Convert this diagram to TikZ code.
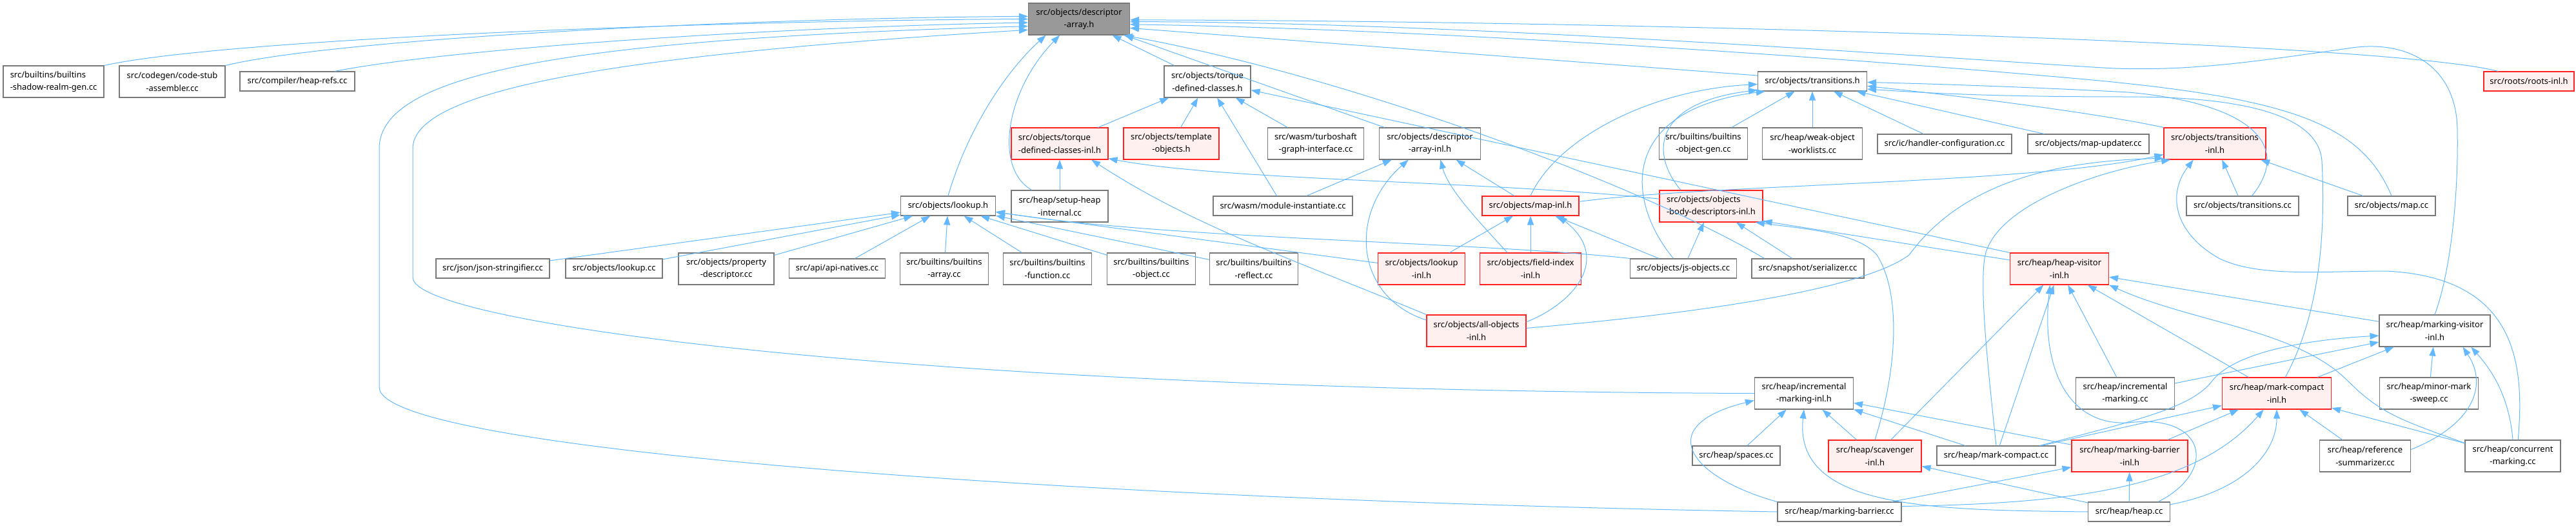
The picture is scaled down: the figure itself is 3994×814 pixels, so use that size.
\documentclass[tikz,border=0pt]{standalone}
\usepackage{fontspec}
\setmainfont{Noto Sans}
\usetikzlibrary{arrows.meta}

\definecolor{edgeblue}{HTML}{63B8FF}
\definecolor{nodegray}{HTML}{787878}
\definecolor{focusgray}{HTML}{999999}
\definecolor{truncred}{HTML}{FF2020}
\definecolor{truncfill}{HTML}{FFF0F0}

\tikzset{
    file/.style={draw=nodegray, fill=white, line width=0.55pt, inner sep=0pt,
        align=center, font=\fontsize{6.5}{9.7}\selectfont},
    one/.style={file, minimum height=15pt},
    two/.style={file, minimum height=24.5pt},
    trunc/.style={draw=truncred, fill=truncfill},
    focus/.style={fill=focusgray},
    inc/.style={draw=edgeblue, line width=0.5pt, -{Triangle[length=7pt,width=5pt]}}
}

\begin{document}
\begin{tikzpicture}[x=0.5pt, y=-0.5pt]
        \useasboundingbox (0,0) rectangle (3994,814);
        \begin{scope}[]
        % Top file
        \node (da) at (1673, 29.5) [two, focus, minimum width=78.5pt] {src/objects/descriptor\\-array.h};
        % Second row
        \node (shadow) at (83, 126.5) [two, align=left, minimum width=78pt] {src/builtins/builtins\\-shadow-realm-gen.cc};
        \node (csa) at (267, 126.5) [two, minimum width=82pt] {src/codegen/code-stub\\-assembler.cc};
        \node (hrefs) at (461, 126) [one, minimum width=89pt] {src/compiler/heap-refs.cc};
        \node (tdc) at (1872, 126.5) [two, minimum width=67pt] {src/objects/torque\\-defined-classes.h};
        \node (tr) at (2810, 126) [one, minimum width=84.5pt] {src/objects/transitions.h};
        \node (roots) at (3921, 126) [one, trunc, minimum width=70pt] {src/roots/roots-inl.h};
        % Third row
        \node (tdci) at (1643, 222.5) [two, trunc, align=left, minimum width=75pt] {src/objects/torque\\-defined-classes-inl.h};
        \node (tmpl) at (1816, 222.5) [two, trunc, minimum width=74pt] {src/objects/template\\-objects.h};
        \node (tsg) at (2040, 222.5) [two, minimum width=74.5pt] {src/wasm/turboshaft\\-graph-interface.cc};
        \node (dai) at (2217, 222.5) [two, minimum width=78.5pt] {src/objects/descriptor\\-array-inl.h};
        \node (bog) at (2641, 222.5) [two, minimum width=68.5pt] {src/builtins/builtins\\-object-gen.cc};
        \node (wow) at (2810, 222.5) [two, minimum width=77.5pt] {src/heap/weak-object\\-worklists.cc};
        \node (hcfg) at (3015, 223) [one, minimum width=104pt] {src/ic/handler-configuration.cc};
        \node (mupd) at (3238, 223) [one, minimum width=94pt] {src/objects/map-updater.cc};
        \node (ti) at (3434, 222.5) [two, trunc, minimum width=79pt] {src/objects/transitions\\-inl.h};
        % Fourth row
        \node (lk) at (1470, 319) [one, minimum width=73.5pt] {src/objects/lookup.h};
        \node (shi) at (1643, 319.5) [two, minimum width=75pt] {src/heap/setup-heap\\-internal.cc};
        \node (mod) at (1989, 319) [one, minimum width=108pt] {src/wasm/module-instantiate.cc};
        \node (mi) at (2373, 319) [one, trunc, minimum width=75pt] {src/objects/map-inl.h};
        \node (obd) at (2653, 319.5) [two, trunc, align=left, minimum width=80pt] {src/objects/objects\\-body-descriptors-inl.h};
        \node (trc) at (3477, 319) [one, minimum width=87pt] {src/objects/transitions.cc};
        \node (mapcc) at (3708, 319) [one, minimum width=68pt] {src/objects/map.cc};
        % Fifth row
        \node (json) at (764, 416) [one, minimum width=88pt] {src/json/json-stringifier.cc};
        \node (lkcc) at (952, 416) [one, minimum width=75pt] {src/objects/lookup.cc};
        \node (pdesc) at (1126, 416.5) [two, minimum width=74pt] {src/objects/property\\-descriptor.cc};
        \node (api) at (1298, 416) [one, minimum width=74.5pt] {src/api/api-natives.cc};
        \node (barr) at (1464, 416.5) [two, minimum width=68.5pt] {src/builtins/builtins\\-array.cc};
        \node (bfun) at (1624, 416.5) [two, minimum width=68.5pt] {src/builtins/builtins\\-function.cc};
        \node (bobj) at (1785, 416.5) [two, minimum width=68.5pt] {src/builtins/builtins\\-object.cc};
        \node (bref) at (1944, 416.5) [two, minimum width=68.5pt] {src/builtins/builtins\\-reflect.cc};
        \node (lki) at (2204, 416.5) [two, trunc, minimum width=67.5pt] {src/objects/lookup\\-inl.h};
        \node (fidx) at (2373, 416.5) [two, trunc, minimum width=78.5pt] {src/objects/field-index\\-inl.h};
        \node (jso) at (2610, 416) [one, minimum width=82.5pt] {src/objects/js-objects.cc};
        \node (ser) at (2803, 416) [one, minimum width=87pt] {src/snapshot/serializer.cc};
        \node (hv) at (3193, 416.5) [two, trunc, minimum width=76.5pt] {src/heap/heap-visitor\\-inl.h};
        % Sixth row
        \node (allo) at (2289, 512.5) [two, trunc, minimum width=77pt] {src/objects/all-objects\\-inl.h};
        \node (mv) at (3775, 512.5) [two, minimum width=86pt] {src/heap/marking-visitor\\-inl.h};
        % Seventh row
        \node (imi) at (2797, 609.5) [two, minimum width=76.5pt] {src/heap/incremental\\-marking-inl.h};
        \node (imcc) at (3295, 609.5) [two, minimum width=76.5pt] {src/heap/incremental\\-marking.cc};
        \node (mc) at (3530, 609.5) [two, trunc, minimum width=84.5pt] {src/heap/mark-compact\\-inl.h};
        \node (mms) at (3766, 609.5) [two, minimum width=76.5pt] {src/heap/minor-mark\\-sweep.cc};
        % Eighth row
        \node (spaces) at (2692, 706) [one, minimum width=68pt] {src/heap/spaces.cc};
        \node (sc) at (2907, 706.5) [two, trunc, minimum width=72pt] {src/heap/scavenger\\-inl.h};
        \node (mcc) at (3095, 706) [one, minimum width=92pt] {src/heap/mark-compact.cc};
        \node (mbi) at (3302, 706.5) [two, trunc, minimum width=90pt] {src/heap/marking-barrier\\-inl.h};
        \node (refs) at (3667, 706.5) [two, minimum width=70.5pt] {src/heap/reference\\-summarizer.cc};
        \node (conc) at (3896, 706.5) [two, minimum width=74pt] {src/heap/concurrent\\-marking.cc};
        % Bottom row
        \node (mbc) at (2852, 793) [one, minimum width=96pt] {src/heap/marking-barrier.cc};
        \node (heap) at (3301, 793) [one, minimum width=63.5pt] {src/heap/heap.cc};

        % Straight includes
        \foreach \src/\dst in {tdc/da, dai/da, tdci/tdc, tmpl/tdc, mod/tdc, tsg/tdc, shi/tdci,
            json/lk, lkcc/lk, pdesc/lk, api/lk, barr/lk, bfun/lk, bobj/lk, bref/lk, lki/lk,
            bog/tr, wow/tr, hcfg/tr, mupd/tr, trc/ti, mapcc/ti, mod/dai, mi/dai,
            lki/mi, fidx/mi, jso/mi, jso/obd, ser/obd, mcc/hv, imcc/hv, mc/hv, mv/hv, sc/hv,
            imcc/mv, mc/mv, mms/mv, mcc/mc, mbi/mc, refs/mc, conc/mc,
            spaces/imi, sc/imi, mcc/imi, mbi/imi, heap/sc, mbc/mbi, heap/mbi}
        {
            \draw[inc] (\src) -- (\dst);
        }

        % Curved includes of descriptor-array.h
        \draw[inc] (shadow.north east) .. controls (350,60) and (1100,32) .. (da.180);
        \draw[inc] (csa.north east) .. controls (520,60) and (1150,28) .. (da.177);
        \draw[inc] (hrefs.15) .. controls (700,75) and (1200,42) .. (da.184);
        \draw[inc] (mbc.west) .. controls (1700,775) and (588,700) .. (588,600) -- (588,230)
            .. controls (588,110) and (900,60) .. (da.188);
        \draw[inc] (imi.west) .. controls (1400,605) and (640,500) .. (640,430) -- (640,230)
            .. controls (640,140) and (950,85) .. (da.192);
        \draw[inc] (lk.north) .. controls (1500,200) and (1560,110) .. (da.206);
        \draw[inc] (shi.150) .. controls (1540,260) and (1560,140) .. (da.220);
        \draw[inc] (tr.174) -- (da.-10);
        \draw[inc] (roots.162) .. controls (3700,65) and (2500,32) .. (da.-1);
        \draw[inc] (mv.north) .. controls (3800,420) and (3812,300) .. (3810,200)
            .. controls (3808,100) and (3730,60) .. (3640,75)
            .. controls (3500,95) and (3400,110) .. (3280,106)
            .. controls (3150,100) and (2300,34) .. (da.-3);
        \draw[inc] (mapcc.north) .. controls (3660,190) and (3550,150) .. (3200,120)
            .. controls (2800,85) and (2200,45) .. (da.-6);
        \draw[inc] (ser.167) .. controls (2550,290) and (2100,120) .. (da.-20);

        % Curved includes of the middle headers
        \draw[inc] (hv.162) -- (tdc.-11);
        \draw[inc] (allo.north west) .. controls (2000,400) and (1850,350) .. (tdci.-27);
        \draw[inc] (obd.172) .. controls (2300,280) and (1900,280) .. (tdci.-17);
        \draw[inc] (jso.north west) .. controls (2300,375) and (1800,370) .. (lk.-7);
        \draw[inc] (mi.north) .. controls (2410,220) and (2550,140) .. (tr.183);
        \draw[inc] (obd.152) .. controls (2560,240) and (2560,160) .. (tr.189);
        \draw[inc] (jso.135) .. controls (2520,310) and (2510,170) .. (tr.192);
        \draw[inc] (ti.north west) .. controls (3250,175) and (3050,150) .. (tr.-5);
        \draw[inc] (trc.47) .. controls (3555,225) and (3490,160) .. (3300,143)
            .. controls (3150,135) and (3000,130) .. (tr.-1);
        \draw[inc] (mc.62) .. controls (3600,480) and (3605,350) .. (3600,250)
            .. controls (3595,170) and (3450,150) .. (3300,150)
            .. controls (3100,150) and (3000,145) .. (tr.-8);
        \draw[inc] (mi.5) .. controls (2650,285) and (3150,285) .. (ti.192);
        \draw[inc] (allo.3) .. controls (2700,480) and (2900,440) .. (2960,395)
            .. controls (3030,300) and (3150,250) .. (ti.196);
        \draw[inc] (mcc.north) .. controls (3080,550) and (3070,450) .. (3077,400)
            .. controls (3090,320) and (3250,265) .. (ti.200);
        \draw[inc] (conc.72) .. controls (3915,560) and (3900,430) .. (3700,420)
            .. controls (3600,420) and (3500,430) .. (3440,400)
            .. controls (3370,360) and (3360,300) .. (ti.217);
        \draw[inc] (allo.168) .. controls (2100,460) and (2090,330) .. (dai.217);
        \draw[inc] (fidx.145) .. controls (2280,330) and (2245,290) .. (dai.-57);
        \draw[inc] (allo.10) .. controls (2440,470) and (2500,400) .. (mi.-20);
        \draw[inc] (hv.170) -- (obd.-16);
        \draw[inc] (sc.north) .. controls (2945,560) and (2945,450) .. (2910,395)
            .. controls (2880,360) and (2800,355) .. (obd.-20);

        % Curved includes of the heap headers
        \draw[inc] (heap.19) .. controls (3440,730) and (3420,640) .. (3300,655)
            .. controls (3200,660) and (3165,560) .. (hv.-120);
        \draw[inc] (conc.165) .. controls (3720,650) and (3690,640) .. (3640,590)
            .. controls (3560,510) and (3400,500) .. (hv.-18);
        \draw[inc] (mcc.13) .. controls (3320,650) and (3400,630) .. (3430,590)
            .. controls (3470,540) and (3600,525) .. (mv.185);
        \draw[inc] (refs.8) .. controls (3830,660) and (3860,600) .. (mv.-30);
        \draw[inc] (conc.north) .. controls (3890,610) and (3860,570) .. (mv.-24);
        \draw[inc] (mbc.5) .. controls (3200,780) and (3400,760) .. (mc.-129);
        \draw[inc] (heap.10) .. controls (3480,760) and (3530,700) .. (mc.south);
        \draw[inc] (mbc.north west) .. controls (2620,740) and (2560,660) .. (imi.188);
        \draw[inc] (heap.west) .. controls (3000,790) and (2780,790) .. (imi.south);
        \end{scope}
\end{tikzpicture}
\end{document}
